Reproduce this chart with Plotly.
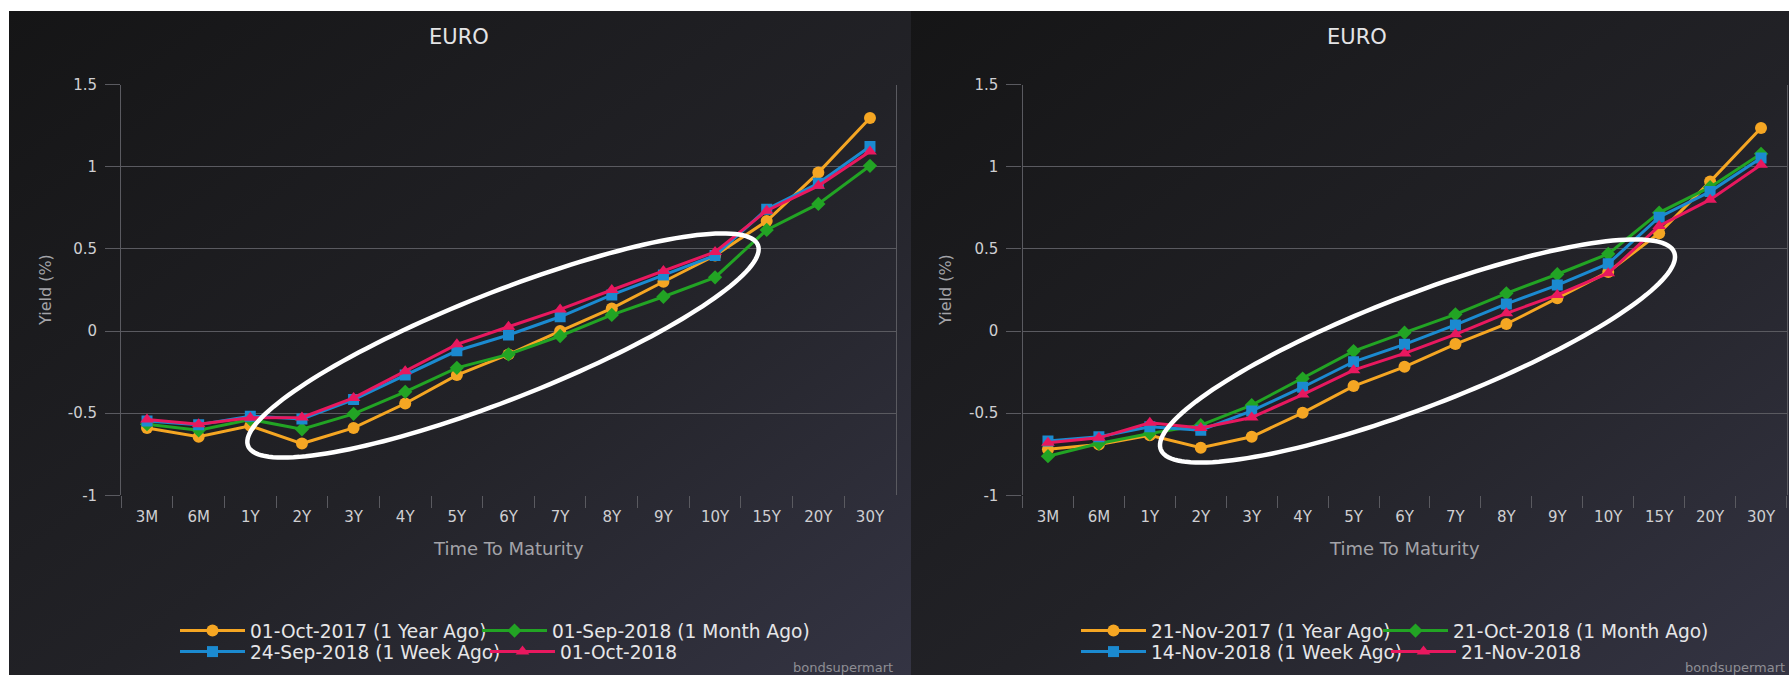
import base64
import numpy as np
import plotly.graph_objects as go

W, H = 1789, 675

# ---- data -------------------------------------------------------------
maturities = ["3M", "6M", "1Y", "2Y", "3Y", "4Y", "5Y", "6Y", "7Y", "8Y",
              "9Y", "10Y", "15Y", "20Y", "30Y"]

# left panel (October 2018 view)
oct2017 = [-0.59, -0.644, -0.577, -0.685, -0.59, -0.441, -0.268, -0.142,
           0.0, 0.138, 0.30, 0.46, 0.67, 0.965, 1.297]
sep2018 = [-0.567, -0.604, -0.538, -0.598, -0.504, -0.37, -0.224, -0.142,
           -0.03, 0.098, 0.209, 0.327, 0.616, 0.774, 1.006]
sep24_2018 = [-0.547, -0.57, -0.518, -0.535, -0.417, -0.268, -0.12, -0.024,
              0.087, 0.22, 0.341, 0.46, 0.742, 0.90, 1.124]
oct2018 = [-0.538, -0.567, -0.528, -0.526, -0.407, -0.245, -0.081, 0.026,
           0.132, 0.25, 0.366, 0.482, 0.733, 0.884, 1.093]

# right panel (November 2018 view)
nov2017 = [-0.72, -0.69, -0.634, -0.71, -0.644, -0.498, -0.335, -0.218,
           -0.079, 0.043, 0.20, 0.36, 0.596, 0.91, 1.236]
oct21_2018 = [-0.762, -0.685, -0.624, -0.573, -0.451, -0.289, -0.122, -0.01,
              0.102, 0.23, 0.346, 0.47, 0.721, 0.876, 1.079]
nov14_2018 = [-0.67, -0.644, -0.583, -0.604, -0.486, -0.342, -0.187, -0.081,
              0.037, 0.165, 0.28, 0.41, 0.693, 0.849, 1.053]
nov21_2018 = [-0.68, -0.65, -0.559, -0.59, -0.526, -0.387, -0.238, -0.136,
              -0.02, 0.108, 0.22, 0.352, 0.64, 0.80, 1.012]

left_names = ["01-Oct-2017 (1 Year Ago)", "01-Sep-2018 (1 Month Ago)",
              "24-Sep-2018 (1 Week Ago)", "01-Oct-2018"]
right_names = ["21-Nov-2017 (1 Year Ago)", "21-Oct-2018 (1 Month Ago)",
               "14-Nov-2018 (1 Week Ago)", "21-Nov-2018"]

ytick_vals = [-1, -0.5, 0, 0.5, 1, 1.5]
ytick_text = ["-1", "-0.5", "0", "0.5", "1", "1.5"]

# ---- styling ----------------------------------------------------------
FONT = "DejaVu Sans"
ORANGE, GREEN, BLUE, PINK = "#f5a623", "#22a424", "#1b8ad0", "#e8185f"
GRID = "#5a5a60"
colors = [ORANGE, GREEN, BLUE, PINK]
symbols = ["circle", "diamond", "square", "triangle-up"]
msizes = [12, 11, 11, 12]


def px_x(p):
    return p / W


def px_y(p):
    return 1 - p / H


def panel_image(x0, y0, w, h):
    svg = (
        f'<svg xmlns="http://www.w3.org/2000/svg" width="{w}" height="{h}" '
        f'viewBox="0 0 {w} {h}" preserveAspectRatio="none">'
        '<defs><linearGradient id="g" x1="0" y1="0" x2="1" y2="1">'
        '<stop offset="0" stop-color="#151516"/>'
        '<stop offset="0.55" stop-color="#222227"/>'
        '<stop offset="1" stop-color="#343443"/>'
        '</linearGradient></defs>'
        f'<rect width="{w}" height="{h}" fill="url(#g)"/></svg>'
    )
    src = "data:image/svg+xml;base64," + base64.b64encode(svg.encode()).decode()
    return dict(source=src, xref="paper", yref="paper", x=px_x(x0), y=px_y(y0),
                sizex=w / W, sizey=h / H, xanchor="left", yanchor="top",
                sizing="stretch", layer="below")


def ellipse_path(cx, cy, a, b, deg, n=160):
    t = np.linspace(0, 2 * np.pi, n)
    th = np.radians(deg)
    xs = cx + a * np.cos(t) * np.cos(th) + b * np.sin(t) * np.sin(th)
    ys = cy - a * np.cos(t) * np.sin(th) + b * np.sin(t) * np.cos(th)
    pts = [f"{px_x(x):.5f},{px_y(y):.5f}" for x, y in zip(xs, ys)]
    return "M" + " L".join(pts) + " Z"


fig = go.Figure()

panels = [
    dict(xa="x", ya="y", series=[oct2017, sep2018, sep24_2018, oct2018],
         names=left_names, legends=["legend", "legend", "legend2", "legend2"]),
    dict(xa="x2", ya="y2", series=[nov2017, oct21_2018, nov14_2018, nov21_2018],
         names=right_names, legends=["legend3", "legend3", "legend4", "legend4"]),
]

for pi, p in enumerate(panels):
    for i, (vals, name) in enumerate(zip(p["series"], p["names"])):
        kw = {}
        if i == 0:
            kw["legendwidth"] = 222
        elif i == 2:
            kw["legendwidth"] = 230
        fig.add_trace(go.Scatter(
            x=maturities, y=vals, name=name, mode="lines+markers",
            xaxis=p["xa"], yaxis=p["ya"], legend=p["legends"][i],
            line=dict(color=colors[i], width=3),
            marker=dict(symbol=symbols[i], size=msizes[i], color=colors[i]),
            **kw,
        ))

# plot-area geometry (pixels)
left_dom = [121.2, 895.8]
right_dom = [1022.5, 1786.5]
y_top, y_bot = 84.7, 495.3

axis_common_x = dict(
    type="category", range=[-0.5, 14.5], tickson="boundaries",
    ticks="outside", ticklen=12, tickcolor=GRID, tickwidth=1,
    showgrid=False, zeroline=False, showline=False, automargin=False,
    tickfont=dict(family=FONT, size=15, color="#cfcfd2"),
    ticklabelstandoff=11, fixedrange=True,
)
axis_common_y = dict(
    range=[-1, 1.5], tickvals=ytick_vals, ticktext=ytick_text,
    showgrid=True, gridcolor=GRID, gridwidth=1.2, zeroline=False,
    ticks="outside", ticklen=15, tickcolor=GRID, tickwidth=1.2,
    showline=True, linecolor=GRID, linewidth=1.2, mirror=True, automargin=False,
    tickfont=dict(family=FONT, size=15, color="#cfcfd2"),
    ticklabelstandoff=5, fixedrange=True,
)

fig.update_layout(
    width=W, height=H,
    margin=dict(l=0, r=0, t=0, b=0, pad=0, autoexpand=False),
    paper_bgcolor="#ffffff",
    plot_bgcolor="rgba(0,0,0,0)",
    showlegend=True,
    font=dict(family=FONT),
    xaxis=dict(domain=[px_x(left_dom[0]), px_x(left_dom[1])], anchor="y",
               **axis_common_x),
    yaxis=dict(domain=[px_y(y_bot), px_y(y_top)], anchor="x", **axis_common_y),
    xaxis2=dict(domain=[px_x(right_dom[0]), px_x(right_dom[1])], anchor="y2",
                **axis_common_x),
    yaxis2=dict(domain=[px_y(y_bot), px_y(y_top)], anchor="x2", **axis_common_y),
    images=[panel_image(9, 11, 902, 664), panel_image(911, 11, 878, 664)],
)

legend_common = dict(orientation="h", xanchor="left", yanchor="middle",
                     bgcolor="rgba(0,0,0,0)", borderwidth=0, itemwidth=65,
                     font=dict(family=FONT, size=18.6, color="#e6e6e8"),
                     itemclick=False, itemdoubleclick=False)
fig.update_layout(
    legend=dict(x=px_x(175), y=px_y(631), **legend_common),
    legend2=dict(x=px_x(175), y=px_y(652), **legend_common),
    legend3=dict(x=px_x(1076), y=px_y(631), **legend_common),
    legend4=dict(x=px_x(1076), y=px_y(652), **legend_common),
)

# titles, axis titles, credits
annots = []
for cx, ycx, pdom, right_edge in [(459, 46, left_dom, 895), (1357, 946, right_dom, 1787)]:
    annots.append(dict(text="EURO", x=px_x(cx), y=px_y(37), xref="paper", yref="paper",
                       showarrow=False, xanchor="center", yanchor="middle",
                       font=dict(family=FONT, size=21, color="#e4e4e6")))
    annots.append(dict(text="Time To Maturity", x=px_x((pdom[0] + pdom[1]) / 2),
                       y=px_y(548), xref="paper", yref="paper", showarrow=False,
                       xanchor="center", yanchor="middle",
                       font=dict(family=FONT, size=18, color="#a3a3a8")))
    annots.append(dict(text="Yield (%)", x=px_x(ycx), y=px_y(290), xref="paper",
                       yref="paper", showarrow=False, textangle=-90,
                       xanchor="center", yanchor="middle",
                       font=dict(family=FONT, size=16, color="#a3a3a8")))
    annots.append(dict(text="bondsupermart", x=px_x(right_edge), y=px_y(667),
                       xref="paper", yref="paper", showarrow=False,
                       xanchor="right", yanchor="middle",
                       font=dict(family=FONT, size=13, color="#8e8e94")))
fig.update_layout(annotations=annots)

# highlight ellipses around the 2Y-10Y segment
fig.update_layout(shapes=[
    dict(type="path", xref="paper", yref="paper", layer="above",
         path=ellipse_path(503, 345.5, 274, 53.5, 21.5),
         line=dict(color="#ffffff", width=4.5)),
    dict(type="path", xref="paper", yref="paper", layer="above",
         path=ellipse_path(1417.5, 351, 275, 56, 21.0),
         line=dict(color="#ffffff", width=4.5)),
])

fig.write_html("out.html", config={"displayModeBar": False})
